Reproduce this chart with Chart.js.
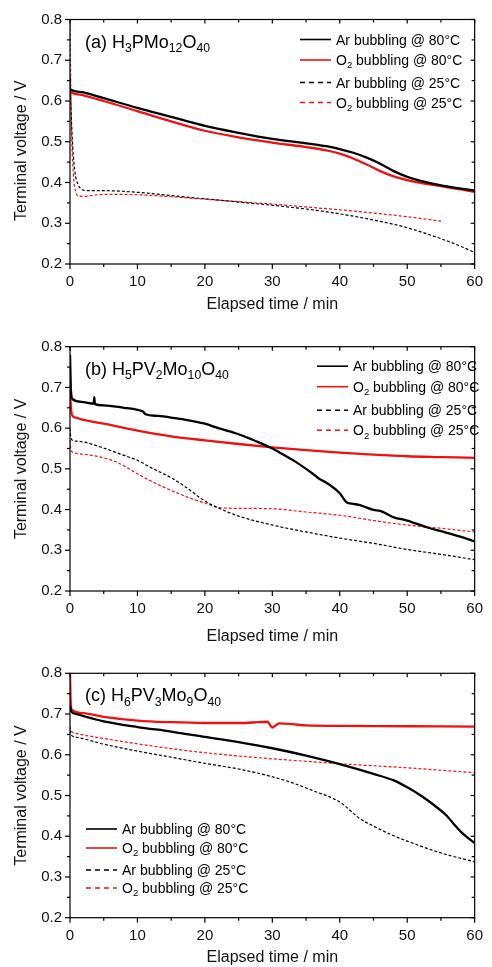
<!DOCTYPE html>
<html>
<head>
<meta charset="utf-8">
<script src="https://cdn.jsdelivr.net/npm/chart.js@4.4.1/dist/chart.umd.min.js"></script>
<style>
  html, body { margin: 0; padding: 0; background: #fff; }
  body { width: 492px; height: 967px; position: relative; overflow: hidden; }
  .panel { position: absolute; left: 0; width: 492px; }
</style>
</head>
<body>
<div class="panel" style="top:0;height:316px"><canvas id="chartA"></canvas></div>
<div class="panel" style="top:316px;height:330px"><canvas id="chartB"></canvas></div>
<div class="panel" style="top:646px;height:321px"><canvas id="chartC"></canvas></div>
<script>
// ---- data ----
const xTicks = [0, 10, 20, 30, 40, 50, 60];
const yTicks = [0.2, 0.3, 0.4, 0.5, 0.6, 0.7, 0.8];
const seriesLabels = ['Ar bubbling @ 80°C', 'O₂ bubbling @ 80°C', 'Ar bubbling @ 25°C', 'O₂ bubbling @ 25°C'];
const panelTitles = ['(a) H₃PMo₁₂O₄₀', '(b) H₅PV₂Mo₁₀O₄₀', '(c) H₆PV₃Mo₉O₄₀'];

// (a) H3PMo12O40
const timeA_ar80 = [0, 0.2, 2, 5, 10, 15, 20, 25, 30, 35, 38, 40, 42, 44, 46, 48, 50, 52, 55, 58, 60];
const voltA_ar80 = [0.63, 0.627, 0.621, 0.607, 0.583, 0.561, 0.539, 0.522, 0.507, 0.496, 0.489, 0.482, 0.473, 0.461, 0.446, 0.428, 0.414, 0.404, 0.393, 0.385, 0.380];
const timeA_o280 = [0, 0.2, 2, 5, 10, 15, 20, 25, 30, 35, 38, 40, 42, 44, 46, 48, 50, 52, 55, 58, 60];
const voltA_o280 = [0.625, 0.621, 0.614, 0.600, 0.575, 0.550, 0.527, 0.511, 0.498, 0.487, 0.479, 0.471, 0.459, 0.444, 0.428, 0.415, 0.406, 0.399, 0.391, 0.383, 0.377];
const timeA_ar25 = [0, 0.3, 0.7, 1.2, 1.8, 2.5, 5, 10, 15, 20, 25, 30, 35, 40, 45, 50, 55, 58, 60];
const voltA_ar25 = [0.66, 0.52, 0.43, 0.395, 0.383, 0.380, 0.380, 0.376, 0.368, 0.360, 0.352, 0.344, 0.335, 0.323, 0.308, 0.289, 0.262, 0.243, 0.228];
const timeA_o225 = [0, 0.2, 0.5, 0.9, 1.2, 2, 5, 10, 15, 20, 25, 30, 35, 40, 45, 50, 55];
const voltA_o225 = [0.79, 0.55, 0.42, 0.375, 0.367, 0.366, 0.371, 0.370, 0.365, 0.359, 0.353, 0.347, 0.340, 0.333, 0.325, 0.316, 0.305];

// (b) H5PV2Mo10O40
const timeB_ar80 = [0, 0.15, 0.4, 2, 3.5, 3.6, 3.7, 5, 8, 10, 10.8, 11.2, 13, 15, 18, 20, 22, 25, 27, 28, 30, 31, 33, 35, 36, 37, 38, 40, 41, 42, 43, 45, 46, 48, 50, 53, 55, 58, 60];
const voltB_ar80 = [0.78, 0.69, 0.671, 0.664, 0.660, 0.676, 0.659, 0.656, 0.650, 0.645, 0.641, 0.634, 0.630, 0.626, 0.618, 0.611, 0.600, 0.585, 0.572, 0.565, 0.550, 0.541, 0.522, 0.500, 0.488, 0.475, 0.466, 0.440, 0.418, 0.414, 0.411, 0.399, 0.397, 0.381, 0.373, 0.356, 0.347, 0.333, 0.322];
const timeB_o280 = [0, 0.1, 0.3, 1, 2, 5, 10, 15, 20, 25, 30, 35, 40, 45, 50, 55, 60];
const voltB_o280 = [0.70, 0.66, 0.632, 0.625, 0.620, 0.611, 0.594, 0.580, 0.570, 0.561, 0.553, 0.546, 0.540, 0.535, 0.531, 0.529, 0.527];
const timeB_ar25 = [0, 0.1, 0.3, 1, 2, 5, 8, 10, 12, 15, 17, 20, 22, 25, 30, 35, 40, 45, 50, 55, 60];
const voltB_ar25 = [0.60, 0.58, 0.571, 0.568, 0.566, 0.551, 0.533, 0.521, 0.503, 0.478, 0.457, 0.421, 0.404, 0.384, 0.362, 0.345, 0.330, 0.317, 0.302, 0.290, 0.277];
const timeB_o225 = [0, 0.1, 0.3, 1, 2, 5, 7, 10, 12, 15, 18, 20, 22, 25, 30, 35, 40, 45, 50, 55, 60];
const voltB_o225 = [0.57, 0.55, 0.542, 0.538, 0.536, 0.527, 0.516, 0.488, 0.470, 0.447, 0.427, 0.416, 0.405, 0.403, 0.402, 0.394, 0.386, 0.373, 0.362, 0.354, 0.345];

// (c) H6PV3Mo9O40
const timeC_ar80 = [0, 0.2, 1, 2, 5, 10, 15, 20, 25, 30, 35, 40, 45, 48, 50, 52, 54, 56, 57, 58, 59, 60];
const voltC_ar80 = [0.72, 0.706, 0.700, 0.695, 0.682, 0.668, 0.657, 0.644, 0.631, 0.616, 0.598, 0.577, 0.553, 0.537, 0.520, 0.500, 0.476, 0.448, 0.428, 0.410, 0.396, 0.383];
const timeC_o280 = [0, 0.1, 0.3, 2, 5, 10, 15, 20, 25, 28, 29.3, 29.7, 30, 30.5, 31, 33, 35, 40, 50, 60];
const voltC_o280 = [0.80, 0.73, 0.710, 0.702, 0.693, 0.684, 0.680, 0.678, 0.678, 0.680, 0.681, 0.672, 0.667, 0.672, 0.677, 0.675, 0.672, 0.671, 0.670, 0.669];
const timeC_ar25 = [0, 0.2, 1, 5, 10, 15, 20, 25, 30, 33, 36, 40, 43, 45, 48, 50, 55, 60];
const voltC_ar25 = [0.66, 0.648, 0.643, 0.626, 0.609, 0.594, 0.579, 0.565, 0.546, 0.531, 0.512, 0.484, 0.443, 0.425, 0.401, 0.388, 0.359, 0.337];
const timeC_o225 = [0, 0.2, 1, 5, 10, 15, 20, 25, 30, 35, 40, 45, 50, 55, 60];
const voltC_o225 = [0.67, 0.658, 0.652, 0.640, 0.627, 0.615, 0.605, 0.597, 0.590, 0.584, 0.578, 0.573, 0.568, 0.562, 0.556];

// ---- styling ----
const FONT = '"Liberation Sans", Arial, sans-serif';
const RED = '#ee1111';
const lineStyles = [
  { color: '#000', width: 2.3, dash: [], legendDash: [] },
  { color: RED, width: 2.3, dash: [], legendDash: [] },
  { color: '#000', width: 1.2, dash: [3, 2], legendDash: [5, 4] },
  { color: RED, width: 1.2, dash: [3, 2], legendDash: [5, 4] },
];

const panels = [
  { id: 'chartA', title: panelTitles[0], height: 316, plotTop: 19.5, plotBottom: 264, titlePad: 2, yShift: '    ',
    series: [[timeA_ar80, voltA_ar80], [timeA_o280, voltA_o280], [timeA_ar25, voltA_ar25], [timeA_o225, voltA_o225]],
    legendX: 300, legendRows: [20, 40.5, 63, 83] },
  { id: 'chartB', title: panelTitles[1], height: 330, plotTop: 30.7, plotBottom: 275, titlePad: 0, yShift: '',
    series: [[timeB_ar80, voltB_ar80], [timeB_o280, voltB_o280], [timeB_ar25, voltB_ar25], [timeB_o225, voltB_o225]],
    legendX: 317, legendRows: [19.5, 40, 63.5, 83.5] },
  { id: 'chartC', title: panelTitles[2], height: 321, plotTop: 27.3, plotBottom: 271.7, titlePad: 0, yShift: '',
    series: [[timeC_ar80, voltC_ar80], [timeC_o280, voltC_o280], [timeC_ar25, voltC_ar25], [timeC_o225, voltC_o225]],
    legendX: 86, legendRows: [155.7, 174.7, 196.7, 214.7] },
];

const SUB = '₀₁₂₃₄₅₆₇₈₉';
// draws text where unicode subscript digits are rendered as lowered small digits
function drawRich(ctx, text, x, baseline, size) {
  let cx = x;
  let buf = '';
  const flush = () => {
    if (!buf) return;
    ctx.font = `${size}px ${FONT}`;
    ctx.fillText(buf, cx, baseline);
    cx += ctx.measureText(buf).width;
    buf = '';
  };
  for (const ch of text) {
    const i = SUB.indexOf(ch);
    if (i >= 0) {
      flush();
      ctx.font = `${size * 0.68}px ${FONT}`;
      ctx.fillText(String(i), cx, baseline + size * 0.24);
      cx += ctx.measureText(String(i)).width;
    } else {
      buf += ch;
    }
  }
  flush();
}

const decorPlugin = {
  id: 'decor',
  afterDraw(chart, args, opts) {
    const { ctx, chartArea: a, scales: { x, y } } = chart;
    ctx.save();
    ctx.strokeStyle = '#000';
    ctx.lineWidth = 1.2;
    ctx.setLineDash([]);
    ctx.strokeRect(a.left, a.top, a.right - a.left, a.bottom - a.top);
    const seg = (x1, y1, x2, y2) => { ctx.beginPath(); ctx.moveTo(x1, y1); ctx.lineTo(x2, y2); ctx.stroke(); };
    // ticks: outward on bottom/left, inward mirrors on top/right; minor half-way
    xTicks.forEach((v, i) => {
      const px = x.getPixelForValue(v);
      seg(px, a.bottom, px, a.bottom + 5); seg(px, a.top, px, a.top + 4);
      if (i < xTicks.length - 1) {
        const mx = x.getPixelForValue((v + xTicks[i + 1]) / 2);
        seg(mx, a.bottom, mx, a.bottom + 3); seg(mx, a.top, mx, a.top + 3);
      }
    });
    yTicks.forEach((v, i) => {
      const py = y.getPixelForValue(v);
      seg(a.left, py, a.left - 5, py); seg(a.right, py, a.right - 4, py);
      if (i < yTicks.length - 1) {
        const my = y.getPixelForValue((v + yTicks[i + 1]) / 2);
        seg(a.left, my, a.left - 3, my); seg(a.right, my, a.right - 3, my);
      }
    });

    ctx.fillStyle = '#000';
    ctx.textBaseline = 'alphabetic';
    ctx.textAlign = 'left';
    drawRich(ctx, opts.title, 85, a.top + 28, 18);

    // legend
    chart.data.datasets.forEach((ds, i) => {
      const cy = a.top + opts.legendRows[i];
      ctx.strokeStyle = ds.borderColor;
      ctx.lineWidth = 1.6;
      ctx.setLineDash(lineStyles[i].legendDash);
      seg(opts.legendX, cy, opts.legendX + 31, cy);
      ctx.setLineDash([]);
      ctx.fillStyle = '#000';
      drawRich(ctx, ds.label, opts.legendX + 36, cy + 5, 14);
    });
    ctx.restore();
  }
};

function pts(xs, ys) { return xs.map((x, i) => ({ x, y: ys[i] })); }

panels.forEach(p => {
  new Chart(document.getElementById(p.id), {
    type: 'line',
    data: {
      datasets: p.series.map((s, i) => ({
        label: seriesLabels[i],
        data: pts(s[0], s[1]),
        borderColor: lineStyles[i].color,
        borderWidth: lineStyles[i].width,
        borderDash: lineStyles[i].dash,
        pointRadius: 0,
        cubicInterpolationMode: 'monotone',
        fill: false,
      })),
    },
    options: {
      responsive: true,
      maintainAspectRatio: false,
      animation: false,
      layout: { padding: { top: p.plotTop, right: 11, left: 0, bottom: 0 } },
      plugins: {
        legend: { display: false },
        tooltip: { enabled: false },
        decor: { title: p.title, legendX: p.legendX, legendRows: p.legendRows },
      },
      scales: {
        x: {
          type: 'linear',
          min: xTicks[0],
          max: xTicks[xTicks.length - 1],
          afterBuildTicks: s => { s.ticks = xTicks.map(v => ({ value: v })); },
          afterFit: s => { s.height = p.height - p.plotBottom; },
          grid: { display: false, drawTicks: false },
          border: { display: false },
          ticks: { color: '#111', padding: 9, font: { size: 15, family: FONT } },
          title: { display: true, text: 'Elapsed time / min', color: '#111',
                   font: { size: 16, family: FONT }, padding: { top: 0, bottom: p.titlePad } },
        },
        y: {
          min: yTicks[0],
          max: yTicks[yTicks.length - 1],
          afterBuildTicks: s => { s.ticks = yTicks.map(v => ({ value: v })); },
          afterFit: s => { s.width = 70; },
          grid: { display: false, drawTicks: false },
          border: { display: false },
          ticks: { color: '#111', padding: 8, font: { size: 15, family: FONT },
                   callback: v => Number(v).toFixed(1) },
          title: { display: true, text: 'Terminal voltage / V' + p.yShift, color: '#111',
                   font: { size: 16, family: FONT }, padding: { top: 12, bottom: 0 } },
        },
      },
    },
    plugins: [decorPlugin],
  });
});
</script>
</body>
</html>
